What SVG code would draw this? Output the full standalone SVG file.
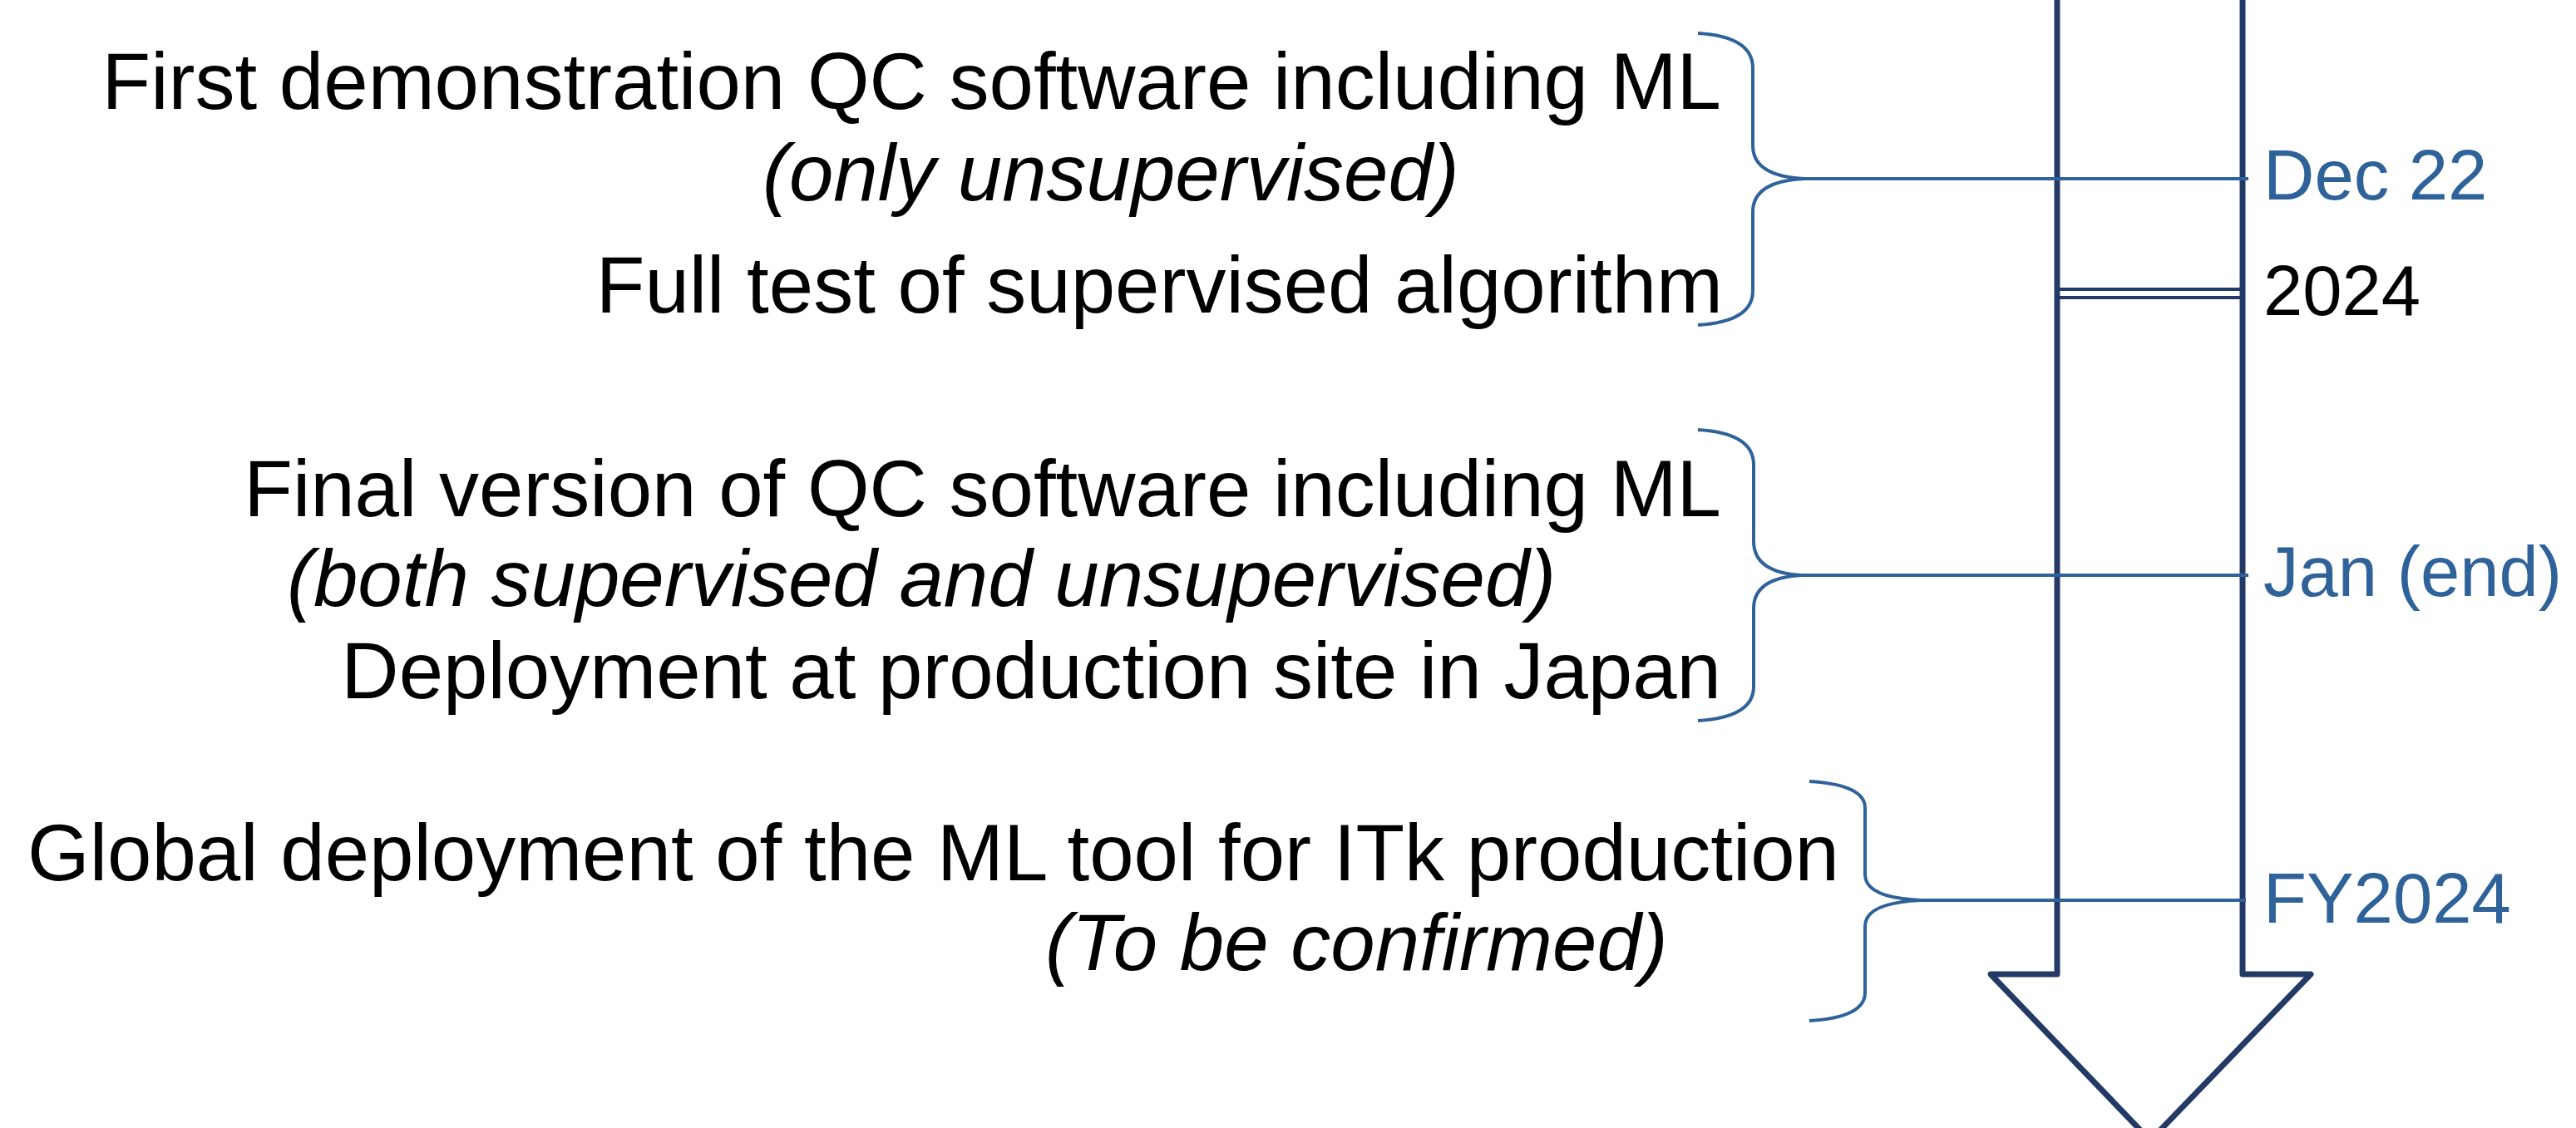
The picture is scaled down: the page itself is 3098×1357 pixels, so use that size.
<svg xmlns="http://www.w3.org/2000/svg" width="3098" height="1357" viewBox="0 0 3098 1357">
<style>
.t{font-family:"Liberation Sans",Arial,sans-serif;font-size:96px;fill:#000}
.i{font-style:italic}
.d{font-family:"Liberation Sans",Arial,sans-serif;font-size:85px;fill:#2E6299}
.k{fill:#000}
.br{fill:none;stroke:#2E6299;stroke-width:4}
.ln{stroke:#2E6299;stroke-width:4}
.ar{fill:#fff;stroke:#233A66;stroke-width:7;stroke-linejoin:round}
.dl{stroke:#233A66;stroke-width:4}
</style>
<rect width="3098" height="1357" fill="#fff"/>
<g id="timeline-arrow">
<path class="ar" d="M2474,-10 L2474,1172 L2394,1172 L2586,1372 L2779,1172 L2697,1172 L2697,-10"/>
<line class="dl" x1="2477" y1="348" x2="2694" y2="348"/>
<line class="dl" x1="2477" y1="358" x2="2694" y2="358"/>
</g>
<g id="connectors">
<path class="br" d="M2042,40 Q2108,44 2108,82 L2108,175 Q2108,212 2170,215 Q2108,218 2108,255 L2108,350 Q2108,387 2042,391"/>
<line class="ln" x1="2168" y1="215" x2="2704" y2="215"/>
<path class="br" d="M2042,517 Q2109,521 2109,559 L2109,651 Q2109,689 2167,692 Q2109,695 2109,732 L2109,826 Q2109,863 2042,867"/>
<line class="ln" x1="2165" y1="692" x2="2704" y2="692"/>
<path class="br" d="M2176,940 Q2243,944 2243,972 L2243,1052 Q2243,1080 2310,1083 Q2243,1086 2243,1114 L2243,1194 Q2243,1224 2176,1228"/>
<line class="ln" x1="2308" y1="1083" x2="2701" y2="1083"/>
</g>
<g id="milestone-dec22">
<text class="t" x="2070" y="131" text-anchor="end">First demonstration QC software including ML</text>
<text class="t i" x="917" y="241">(only unsupervised)</text>
<text class="t" x="2072" y="376" text-anchor="end">Full test of supervised algorithm</text>
<text class="d" x="2722" y="240">Dec 22</text>
<text class="d k" x="2722" y="379">2024</text>
</g>
<g id="milestone-jan">
<text class="t" x="2070" y="621" text-anchor="end">Final version of QC software including ML</text>
<text class="t i" x="345" y="729">(both supervised and unsupervised)</text>
<text class="t" x="2070" y="840" text-anchor="end">Deployment at production site in Japan</text>
<text class="d" x="2722" y="717">Jan (end)</text>
</g>
<g id="milestone-fy2024">
<text class="t" x="2212" y="1059" text-anchor="end">Global deployment of the ML tool for ITk production</text>
<text class="t i" x="1257" y="1167">(To be confirmed)</text>
<text class="d" x="2722" y="1110">FY2024</text>
</g>
</svg>
